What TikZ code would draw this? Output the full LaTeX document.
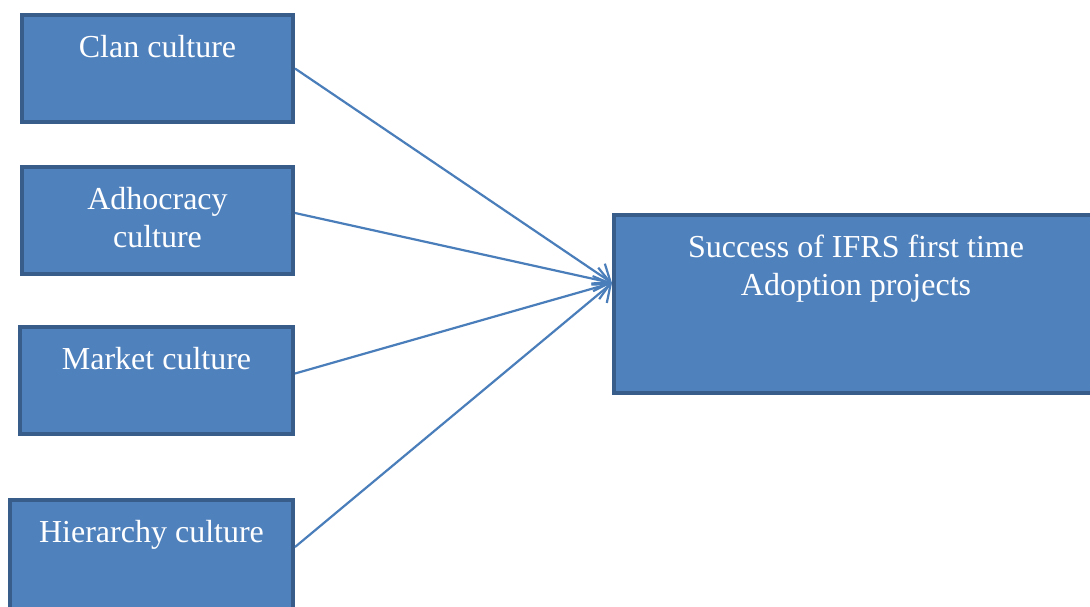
\documentclass[tikz,border=0pt]{standalone}
\usepackage{fontspec}
\setmainfont{Liberation Serif}
\usepackage{xcolor}
\usetikzlibrary{arrows.meta,positioning}

\definecolor{boxfill}{HTML}{4F81BD}
\definecolor{boxline}{HTML}{385D8A}
\definecolor{arrowcol}{HTML}{4A7EBB}

\tikzset{
  box/.style={draw=boxline, fill=boxfill, line width=2pt, inner sep=0pt,
    minimum width=135.5pt, minimum height=53.5pt},
  boxtext/.style={text=white, align=center, inner sep=0pt, anchor=north,
    font=\fontsize{16}{19}\selectfont},
  link/.style={->, draw=arrowcol, line width=1.1pt}
}

\begin{document}
\begin{tikzpicture}[x=0.5pt, y=-0.5pt, >={Straight Barb[length=7.5pt, width=12pt]}]

\clip (0,0) rectangle (1090,606);
\fill[white] (0,0) rectangle (1090,606);

% Culture types
\node[box] (clan) at (157.5,68.5) {};
\node[box] (adhoc) at (157.5,220) {};
\node[box, minimum width=136.5pt] (market) at (156.5,380.5) {};
\node[box, minimum width=141.5pt, minimum height=58pt] (hier) at (151.5,558) {};

\node[boxtext] (clantxt) at ([yshift=-11pt]clan.north) {Clan culture};
\node[boxtext] (adhoctxt) at ([yshift=-11pt]adhoc.north) {Adhocracy\\culture};
\node[boxtext] (markettxt) at ([yshift=-11pt]market.north) {Market culture};
\node[boxtext] (hiertxt) at ([yshift=-11pt]hier.north) {Hierarchy culture};

% Outcome
\node[box, minimum width=242pt, minimum height=89pt] (succ) at (856,304) {};
\node[boxtext] (succtxt) at ([yshift=-11pt]succ.north) {Success of IFRS first time\\Adoption projects};
\coordinate (target) at ([yshift=10.5pt]succ.west);

% Links
\draw[link] (clan.east) -- (target);
\draw[link] ([yshift=3.5pt]adhoc.east) -- (target);
\draw[link] ([yshift=3.5pt]market.east) -- (target);
\draw[link] ([yshift=5.5pt]hier.east) -- (target);

\end{tikzpicture}
\end{document}
